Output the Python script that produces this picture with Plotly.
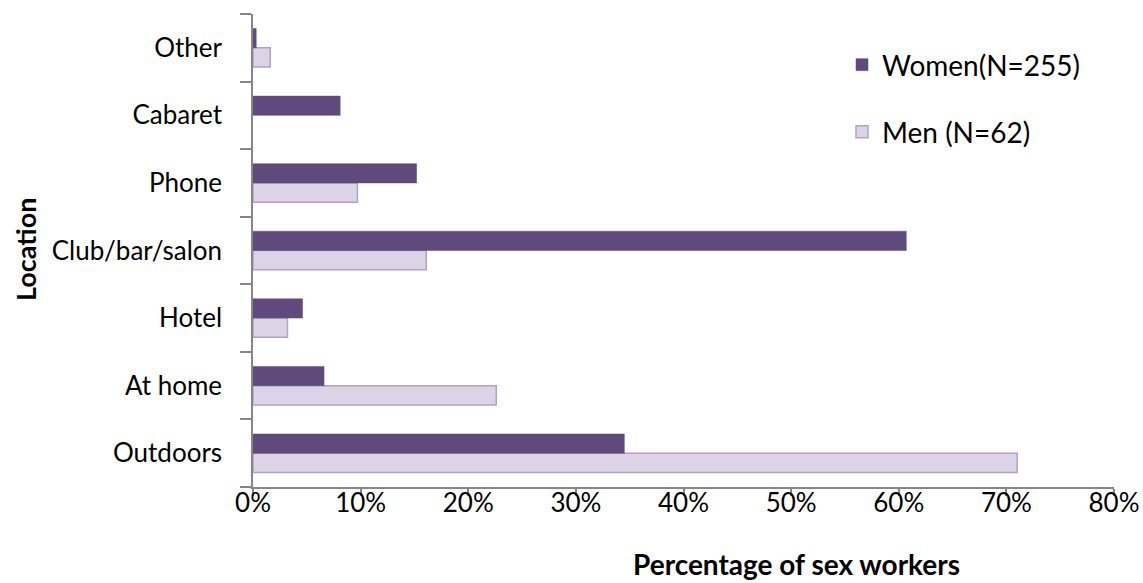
import plotly.graph_objects as go

categories = ["Outdoors", "At home", "Hotel", "Club/bar/salon", "Phone", "Cabaret", "Other"]
women = [0.345, 0.066, 0.046, 0.607, 0.152, 0.081, 0.003]
men = [0.710, 0.226, 0.032, 0.161, 0.097, 0.0, 0.016]
x_ticks = [0, 0.1, 0.2, 0.3, 0.4, 0.5, 0.6, 0.7, 0.8]

FONT = "Lato, Open Sans, sans-serif"
L, R, T, B = 253, 29, 14, 96
W, H = 1143, 583
PW, PH = W - L - R, H - T - B


def px_x(px):
    return (px - L) / PW


def px_y(py):
    return (H - B - py) / PH


fig = go.Figure()
fig.add_trace(go.Bar(
    y=categories, x=men, orientation="h", name="Men (N=62)",
    marker=dict(color="#DCD3E7",
                line=dict(color="#B3A2C7", width=[1.5 if v > 0 else 0 for v in men])),
    legend="legend2",
))
fig.add_trace(go.Bar(
    y=categories, x=women, orientation="h", name="Women(N=255)",
    marker=dict(color="#604A7B", line=dict(color="#604A7B", width=0.5)),
    legend="legend",
))

fig.update_layout(
    width=W, height=H,
    margin=dict(l=L, r=R, t=T, b=B),
    plot_bgcolor="white", paper_bgcolor="white",
    barmode="group", bargap=0.43, bargroupgap=0,
    font=dict(family=FONT, size=26, color="black"),
    legend=dict(x=px_x(842), y=px_y(65), xanchor="left", yanchor="middle",
                font=dict(size=28), bgcolor="rgba(0,0,0,0)"),
    legend2=dict(x=px_x(842), y=px_y(132), xanchor="left", yanchor="middle",
                 font=dict(size=28), bgcolor="rgba(0,0,0,0)"),
    showlegend=True,
    annotations=[
        dict(text="<b>Percentage of sex workers</b>", xref="paper", yref="paper",
             x=px_x(796), y=px_y(564), xanchor="center", yanchor="middle",
             showarrow=False, font=dict(size=28, family=FONT, color="black")),
        dict(text="<b>Location</b>", xref="paper", yref="paper",
             x=px_x(25), y=px_y(250), xanchor="center", yanchor="middle",
             textangle=-90, showarrow=False,
             font=dict(size=27, family=FONT, color="black")),
    ],
)
fig.update_xaxes(
    range=[0, 0.8], tickvals=x_ticks, tickformat=".0%",
    showgrid=False, zeroline=False, automargin=False,
    showline=True, linecolor="#868686", linewidth=1.5,
    ticks="outside", ticklen=7, tickcolor="#868686", tickwidth=1.5,
    tickfont=dict(size=26), ticklabelstandoff=-15,
)
fig.update_yaxes(
    categoryorder="array", categoryarray=categories,
    showgrid=False, zeroline=False, automargin=False,
    showline=True, linecolor="#868686", linewidth=1.5,
    ticks="outside", ticklen=11, tickcolor="#868686", tickwidth=1.5,
    tickson="boundaries", ticklabelstandoff=24,
    tickfont=dict(size=26),
)

fig.write_html("out.html", config={"displayModeBar": False},
               post_script="document.body.style.margin='0';")
